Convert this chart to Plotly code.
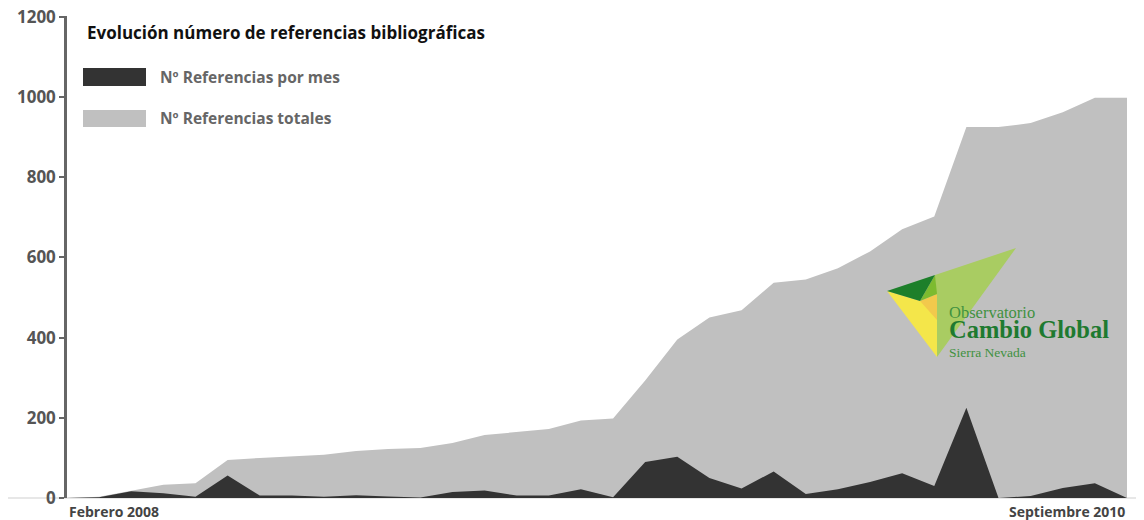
import plotly.graph_objects as go

# ---- data ----
periodos = list(range(34))  # monthly periods from Febrero 2008 to Septiembre 2010
etiquetas_x = ["Febrero 2008", "Septiembre 2010"]
referencias_totales = [0, 3, 18, 33, 37, 95, 100, 104, 108, 117, 122, 125, 137, 157, 165, 172,
                       193, 198, 293, 395, 450, 468, 537, 545, 573, 615, 670, 702, 925, 925,
                       935, 962, 998, 998]
referencias_mes = [0, 2, 17, 12, 3, 56, 6, 6, 3, 7, 4, 1, 15, 19, 6, 6,
                   22, 2, 90, 103, 50, 24, 66, 10, 22, 40, 62, 30, 225, 0,
                   5, 25, 37, 0]
y_ticks = [0, 200, 400, 600, 800, 1000, 1200]

titulo = "Evolución número de referencias bibliográficas"
leyenda = ["Nº Referencias por mes", "Nº Referencias totales"]

GRIS = "#c0c0c0"
NEGRO = "#333333"
EJE = "#666666"

fig = go.Figure()
fig.add_trace(go.Scatter(x=periodos, y=referencias_totales, mode="lines", fill="tozeroy",
                         fillcolor=GRIS, line=dict(width=0, color=GRIS), name=leyenda[1],
                         hoverinfo="skip"))
fig.add_trace(go.Scatter(x=periodos, y=referencias_mes, mode="lines", fill="tozeroy",
                         fillcolor=NEGRO, line=dict(width=0, color=NEGRO), name=leyenda[0],
                         hoverinfo="skip"))

# page offset of the figure inside the browser page (body margin)
OFF = 8
W, H = 1144, 520
L = 67 - OFF
T = 16 - OFF
R = W - (1127 - OFF)
B = H - (498 - OFF)
pw, ph = W - L - R, H - T - B

def px(x):
    return (x - OFF - L) / pw

def py(y):
    return (H - B - (y - OFF)) / ph

shapes = []
# baseline extending across full width
shapes.append(dict(type="line", xref="paper", yref="paper", x0=px(0), x1=px(W + 10), y0=0, y1=0,
                   line=dict(color="#cfcfcf", width=1.2), layer="below"))
# legend swatches
shapes.append(dict(type="rect", xref="paper", yref="paper", x0=px(83), x1=px(146),
                   y0=py(86), y1=py(68), fillcolor=NEGRO, line=dict(width=0)))
shapes.append(dict(type="rect", xref="paper", yref="paper", x0=px(83), x1=px(146),
                   y0=py(127), y1=py(110), fillcolor=GRIS, line=dict(width=0)))

# logo polygons
def poly(points, color):
    d = "M " + " L ".join(f"{px(a)},{py(b)}" for a, b in points) + " Z"
    return dict(type="path", xref="paper", yref="paper", path=d, fillcolor=color,
                line=dict(width=0))

shapes.append(poly([(935, 275), (1016, 248), (937, 357)], "#a9cc62"))
shapes.append(poly([(887, 291), (920, 301), (937, 300), (937, 357)], "#f4e64a"))
shapes.append(poly([(920, 301), (937, 294), (937, 320)], "#f2c94c"))
shapes.append(poly([(920, 301), (935, 275), (937, 294)], "#7dbb2f"))
shapes.append(poly([(887, 291), (935, 275), (920, 301)], "#1d7f2a"))

ann = []
ann.append(dict(text=titulo, x=px(85), y=py(33), xref="paper", yref="paper",
                xanchor="left", yanchor="middle", showarrow=False,
                font=dict(family="Open Sans", size=17, color="#111111", weight="bold")))
ann.append(dict(text=leyenda[0], x=px(158), y=py(77), xref="paper", yref="paper",
                xanchor="left", yanchor="middle", showarrow=False,
                font=dict(family="Open Sans", size=15.5, color="#666666", weight="bold")))
ann.append(dict(text=leyenda[1], x=px(158), y=py(118), xref="paper", yref="paper",
                xanchor="left", yanchor="middle", showarrow=False,
                font=dict(family="Open Sans", size=15.5, color="#666666", weight="bold")))
ann.append(dict(text=etiquetas_x[0], x=periodos[0], y=py(512), xref="x", yref="paper",
                xanchor="left", yanchor="middle", showarrow=False,
                font=dict(family="Open Sans", size=14, color="#444444", weight="bold")))
ann.append(dict(text=etiquetas_x[1], x=periodos[-1], y=py(512), xref="x", yref="paper",
                xanchor="right", yanchor="middle", showarrow=False,
                font=dict(family="Open Sans", size=14, color="#444444", weight="bold")))
# logo text (one block, three lines)
logo_txt = ("<span style='font-size:16.5px;fill:#3f9140'>Observatorio</span><br>"
            "<span style='font-size:24.5px'><b>Cambio Global</b></span><br>"
            "<span style='font-size:13.5px;fill:#3f9140'>Sierra Nevada</span>")
ann.append(dict(text=logo_txt, x=px(947), y=py(331), xref="paper", yref="paper",
                xanchor="left", yanchor="middle", align="left", showarrow=False,
                font=dict(family="Liberation Serif", size=15, color="#1e7a30")))

fig.update_layout(
    width=W, height=H,
    margin=dict(l=L, r=R, t=T, b=B, pad=0, autoexpand=False),
    paper_bgcolor="white", plot_bgcolor="white",
    showlegend=False,
    shapes=shapes, annotations=ann,
    xaxis=dict(range=[periodos[0], periodos[-1]], showgrid=False, zeroline=False,
               showline=False, showticklabels=False, ticks="", automargin=False),
    yaxis=dict(range=[0, 1202], tickvals=y_ticks, showgrid=False, zeroline=False,
               showline=True, linecolor=EJE, linewidth=2.5, ticks="outside", ticklen=5,
               tickwidth=2, tickcolor=EJE, ticklabelstandoff=0, ticklabeloverflow="allow",
               automargin=False,
               tickfont=dict(family="Open Sans", size=17, color="#555555", weight="bold")),
)

fig.write_html("out.html")
